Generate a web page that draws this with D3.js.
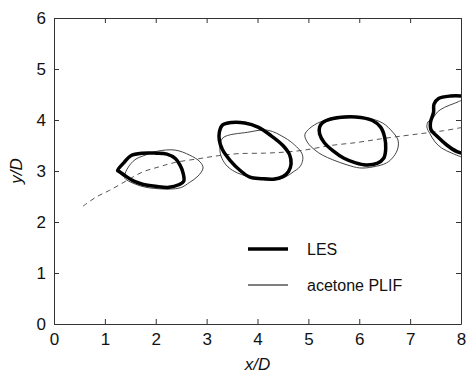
<!DOCTYPE html>
<html>
<head>
<meta charset="utf-8">
<script src="https://cdn.jsdelivr.net/npm/d3@7"></script>
<style>
  body { margin: 0; background: #fff; }
  text { font-family: Arial, "Liberation Sans", sans-serif; }
</style>
</head>
<body>
<svg id="chart"></svg>
<script>
// axis ticks
const xTicks = [0, 1, 2, 3, 4, 5, 6, 7, 8];
const yTicks = [0, 1, 2, 3, 4, 5, 6];

// LES vortex contours [x/D, y/D]
const les1 = [[1.25,3.01],[1.38,3.17],[1.51,3.30],[1.74,3.35],[2.0,3.35],[2.22,3.33],[2.39,3.24],[2.48,3.11],[2.54,2.95],[2.55,2.80],[2.45,2.73],[2.26,2.68],[2.0,2.70],[1.74,2.74],[1.57,2.80],[1.41,2.90],[1.28,2.99]];
const les2 = [[3.25,3.76],[3.31,3.90],[3.49,3.95],[3.75,3.94],[4.01,3.86],[4.27,3.69],[4.50,3.50],[4.63,3.32],[4.66,3.14],[4.61,2.99],[4.50,2.89],[4.31,2.84],[4.08,2.85],[3.85,2.88],[3.66,3.01],[3.46,3.21],[3.31,3.42],[3.25,3.60]];
const les3 = [[5.28,3.95],[5.44,4.02],[5.70,4.06],[6.03,4.05],[6.26,3.99],[6.42,3.86],[6.50,3.66],[6.52,3.43],[6.48,3.25],[6.35,3.15],[6.13,3.12],[5.93,3.16],[5.70,3.25],[5.48,3.40],[5.31,3.56],[5.22,3.73],[5.22,3.86]];
const les4 = [[8.05,4.47],[7.79,4.47],[7.56,4.42],[7.47,4.31],[7.46,4.15],[7.40,3.95],[7.41,3.81],[7.53,3.68],[7.72,3.51],[7.92,3.38],[8.05,3.34]];

// acetone PLIF contours [x/D, y/D]
const plif1 = [[1.39,2.86],[1.69,2.71],[2.08,2.65],[2.48,2.67],[2.67,2.78],[2.83,2.90],[2.93,3.06],[2.87,3.18],[2.67,3.31],[2.38,3.41],[2.04,3.39],[1.79,3.31],[1.59,3.22],[1.45,3.06],[1.39,2.92]];
const plif2 = [[3.32,3.65],[3.81,3.76],[4.20,3.80],[4.54,3.65],[4.73,3.51],[4.87,3.35],[4.89,3.22],[4.83,3.08],[4.70,2.98],[4.54,2.88],[4.28,2.82],[3.95,2.86],[3.61,2.96],[3.42,3.08],[3.30,3.25],[3.26,3.45]];
const plif3 = [[4.93,3.71],[5.03,3.84],[5.23,3.96],[5.42,4.00],[5.72,4.04],[6.15,4.04],[6.46,3.94],[6.66,3.76],[6.76,3.61],[6.76,3.45],[6.68,3.29],[6.54,3.16],[6.27,3.08],[6.01,3.06],[5.76,3.12],[5.48,3.22],[5.28,3.31],[5.13,3.41],[4.99,3.55]];
const plif4 = [[8.02,4.39],[7.88,4.33],[7.68,4.25],[7.54,4.16],[7.45,4.04],[7.35,3.96],[7.33,3.86],[7.39,3.73],[7.49,3.57],[7.62,3.45],[7.82,3.35],[8.02,3.27]];

// jet trajectory (dashed)
const trajectory = [[0.57,2.31],[0.83,2.49],[1.09,2.62],[1.41,2.80],[1.74,2.98],[2.06,3.08],[2.39,3.17],[2.84,3.24],[3.23,3.30],[3.62,3.34],[4.14,3.35],[4.53,3.37],[4.92,3.41],[5.44,3.50],[5.96,3.56],[6.42,3.63],[6.87,3.69],[7.27,3.74],[7.66,3.79],[8.0,3.85]];

const width = 467, height = 375;
const margin = {top: 18, right: 6, bottom: 51, left: 54};
const w = width - margin.left - margin.right;
const h = height - margin.top - margin.bottom;

const svg = d3.select('#chart').attr('width', width).attr('height', height);
const g = svg.append('g').attr('transform', 'translate(' + margin.left + ',' + margin.top + ')');

const x = d3.scaleLinear().domain([0, 8]).range([0, w]);
const y = d3.scaleLinear().domain([0, 6]).range([h, 0]);

g.append('defs').append('clipPath').attr('id', 'clip')
  .append('rect').attr('width', w).attr('height', h);

// axes, ticks pointing inward on every side
const tickLen = 5;
const fmt = d3.format('d');
g.append('g').attr('transform', 'translate(0,' + h + ')')
  .call(d3.axisBottom(x).tickValues(xTicks).tickFormat(fmt).tickSizeInner(-tickLen).tickSizeOuter(0).tickPadding(9));
g.append('g')
  .call(d3.axisTop(x).tickValues(xTicks).tickSizeInner(-tickLen).tickSizeOuter(0).tickFormat(''));
g.append('g')
  .call(d3.axisLeft(y).tickValues(yTicks).tickFormat(fmt).tickSizeInner(-tickLen).tickSizeOuter(0).tickPadding(8));
g.append('g').attr('transform', 'translate(' + w + ',0)')
  .call(d3.axisRight(y).tickValues(yTicks).tickSizeInner(-tickLen).tickSizeOuter(0).tickFormat(''));

g.selectAll('.domain').attr('stroke', '#333');
g.selectAll('.tick line').attr('stroke', '#333');
g.selectAll('.tick text').attr('font-size', 17).attr('fill', '#111')
  .attr('font-family', 'Arial, "Liberation Sans", sans-serif');

const plot = g.append('g').attr('clip-path', 'url(#clip)');

const closedLine = d3.line().x(d => x(d[0])).y(d => y(d[1])).curve(d3.curveCatmullRomClosed.alpha(0.5));
const openLine = d3.line().x(d => x(d[0])).y(d => y(d[1])).curve(d3.curveCatmullRom.alpha(0.5));

// trajectory
plot.append('path').datum(trajectory)
  .attr('fill', 'none').attr('stroke', '#555').attr('stroke-width', 1)
  .attr('stroke-dasharray', '5,4')
  .attr('d', openLine);

// PLIF contours (thin)
[plif1, plif2, plif3].forEach(c => {
  plot.append('path').datum(c)
    .attr('fill', 'none').attr('stroke', '#444').attr('stroke-width', 1)
    .attr('d', closedLine);
});
plot.append('path').datum(plif4)
  .attr('fill', 'none').attr('stroke', '#444').attr('stroke-width', 1)
  .attr('d', openLine);

// LES contours (thick)
[les1, les2, les3].forEach(c => {
  plot.append('path').datum(c)
    .attr('fill', 'none').attr('stroke', '#000').attr('stroke-width', 3.5)
    .attr('stroke-linejoin', 'round')
    .attr('d', closedLine);
});
plot.append('path').datum(les4)
  .attr('fill', 'none').attr('stroke', '#000').attr('stroke-width', 3.5)
  .attr('stroke-linejoin', 'round')
  .attr('d', openLine);

// legend
const legend = g.append('g');
const legendItems = [
  {label: 'LES', width: 3.5, dy: 231},
  {label: 'acetone PLIF', width: 1.2, dy: 267}
];
legendItems.forEach(it => {
  legend.append('line')
    .attr('x1', 194).attr('x2', 234).attr('y1', it.dy).attr('y2', it.dy)
    .attr('stroke', '#000').attr('stroke-width', it.width);
  legend.append('text')
    .attr('x', 253).attr('y', it.dy + 6)
    .attr('font-size', 16).attr('fill', '#111')
    .text(it.label);
});

// axis titles
svg.append('text')
  .attr('x', margin.left + w / 2).attr('y', 370)
  .attr('text-anchor', 'middle').attr('font-size', 17).attr('font-style', 'italic')
  .attr('fill', '#111').text('x/D');
svg.append('text')
  .attr('transform', 'translate(22,' + (margin.top + h / 2) + ') rotate(-90)')
  .attr('text-anchor', 'middle').attr('font-size', 17).attr('font-style', 'italic')
  .attr('fill', '#111').text('y/D');
</script>
</body>
</html>
